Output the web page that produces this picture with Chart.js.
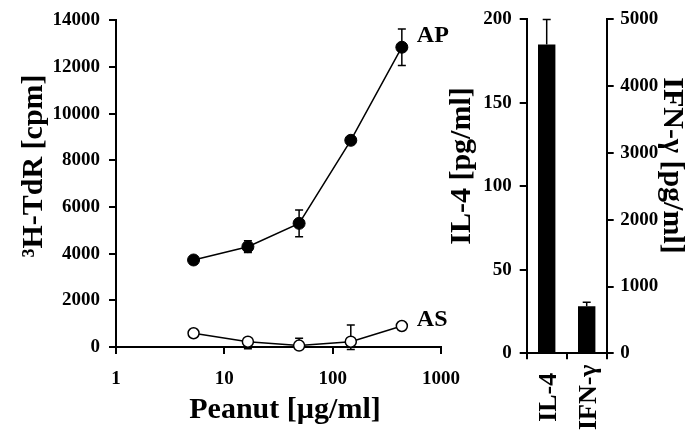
<!DOCTYPE html>
<html><head><meta charset="utf-8">
<script src="https://cdn.jsdelivr.net/npm/chart.js@4.4.0/dist/chart.umd.min.js"></script>
<style>
html,body{margin:0;padding:0;background:#fff;}
#wrap{position:relative;width:693px;height:440px;background:#fff;}
canvas{position:absolute;left:0;top:0;}
</style></head><body>
<div id="wrap"><canvas id="c1" width="693" height="440"></canvas><canvas id="c2" width="693" height="440"></canvas></div>
<script>
// ---- data ----
const peanutConc = [5.2, 16.5, 49, 147, 435];
const apMean = [3730, 4300, 5300, 8860, 12850];
const apErr = [80, 250, 570, 150, 780];
const asMean = [590, 230, 60, 230, 900];
const asErrUp = [0, 0, 320, 710, 0];
const asErrDown = [0, 310, 0, 340, 0];
const cpmTicks = [0, 2000, 4000, 6000, 8000, 10000, 12000, 14000];
const concTicks = [1, 10, 100, 1000];
const seriesNames = ['AP', 'AS'];

const cytokines = ['IL-4', 'IFN-γ'];
const il4Series = [185, null];
const il4Err = [15, null];
const ifnSeries = [null, 705];
const ifnErr = [null, 60];
const il4Ticks = [0, 50, 100, 150, 200];
const ifnTicks = [0, 1000, 2000, 3000, 4000, 5000];

// ---- style ----
const FONT = '"Liberation Serif", "Times New Roman", serif';
Chart.defaults.font.family = FONT;
Chart.defaults.color = '#000';
const tickFont = {family: FONT, size: 19, weight: 'bold'};
const axisGrid = (len) => ({drawOnChartArea: false, drawTicks: true, tickLength: len, color: '#000', lineWidth: 2});
const axisBorder = {display: true, color: '#000', width: 2};

function drawRotated(ctx, text, x, y, angle) {
  ctx.save();
  ctx.translate(x, y);
  ctx.rotate(angle);
  ctx.textAlign = 'center';
  ctx.textBaseline = 'alphabetic';
  ctx.fillText(text, 0, 0);
  ctx.restore();
}

// ---- left chart ----
const errLeft = {
  id: 'errLeft',
  beforeDatasetsDraw(chart) {
    const ctx = chart.ctx, ys = chart.scales.y;
    const sets = [[apMean, apErr, apErr], [asMean, asErrUp, asErrDown]];
    ctx.save();
    ctx.strokeStyle = '#000';
    ctx.lineWidth = 1.5;
    sets.forEach((s, di) => {
      const meta = chart.getDatasetMeta(di);
      meta.data.forEach((pt, i) => {
        const up = s[1][i], dn = s[2][i];
        const x = pt.x;
        const yc = ys.getPixelForValue(s[0][i]);
        ctx.beginPath();
        if (up) {
          const yt = ys.getPixelForValue(s[0][i] + up);
          ctx.moveTo(x, yc); ctx.lineTo(x, yt);
          ctx.moveTo(x - 4, yt); ctx.lineTo(x + 4, yt);
        }
        if (dn) {
          const yb = ys.getPixelForValue(s[0][i] - dn);
          ctx.moveTo(x, yc); ctx.lineTo(x, yb);
          ctx.moveTo(x - 4, yb); ctx.lineTo(x + 4, yb);
        }
        ctx.stroke();
      });
    });
    ctx.restore();
  },
  afterDraw(chart) {
    const ctx = chart.ctx;
    ctx.save();
    ctx.fillStyle = '#000';
    ctx.font = 'bold 30px ' + FONT;
    drawRotated(ctx, '³H-TdR [cpm]', 41.5, 166, -Math.PI / 2);
    ctx.textAlign = 'center';
    ctx.textBaseline = 'alphabetic';
    ctx.fillText('Peanut [µg/ml]', 285, 418);
    ctx.font = 'bold 24px ' + FONT;
    ctx.textAlign = 'left';
    ctx.textBaseline = 'middle';
    const dy = [-11, -6];
    seriesNames.forEach((n, di) => {
      const meta = chart.getDatasetMeta(di);
      const last = meta.data[meta.data.length - 1];
      ctx.fillText(n, last.x + 15, last.y + dy[di]);
    });
    ctx.restore();
  }
};

new Chart(document.getElementById('c1'), {
  type: 'line',
  data: {
    datasets: [
      {
        label: seriesNames[0],
        data: peanutConc.map((x, i) => ({x: x, y: apMean[i]})),
        borderColor: '#000', borderWidth: 1.5, tension: 0,
        pointRadius: 6, pointBackgroundColor: '#000', pointBorderColor: '#000', pointBorderWidth: 1,
        clip: false
      },
      {
        label: seriesNames[1],
        data: peanutConc.map((x, i) => ({x: x, y: asMean[i]})),
        borderColor: '#000', borderWidth: 1.5, tension: 0,
        pointRadius: 5.5, pointBackgroundColor: '#fff', pointBorderColor: '#000', pointBorderWidth: 1.5,
        clip: false
      }
    ]
  },
  options: {
    responsive: false, animation: false,
    layout: {padding: {left: 0, right: 252, top: 20, bottom: 0}},
    plugins: {legend: {display: false}, tooltip: {enabled: false}},
    scales: {
      x: {
        type: 'logarithmic', min: 1, max: 1000,
        afterBuildTicks: (s) => { s.ticks = concTicks.map(v => ({value: v, major: true})); },
        afterFit: (s) => { s.height = 93; },
        ticks: {font: tickFont, padding: 14, autoSkip: false, maxRotation: 0, callback: (v) => String(v)},
        grid: axisGrid(7), border: axisBorder
      },
      y: {
        type: 'linear', min: 0, max: 14000,
        afterBuildTicks: (s) => { s.ticks = cpmTicks.map(v => ({value: v})); },
        afterFit: (s) => { s.width = 116; },
        ticks: {font: tickFont, padding: 9, callback: (v) => String(v)},
        grid: axisGrid(7), border: axisBorder
      }
    }
  },
  plugins: [errLeft]
});

// ---- right chart ----
const errRight = {
  id: 'errRight',
  beforeDatasetsDraw(chart) {
    const ctx = chart.ctx;
    const sets = [[il4Series, il4Err, 'y'], [ifnSeries, ifnErr, 'y2']];
    ctx.save();
    ctx.strokeStyle = '#000';
    ctx.lineWidth = 1.5;
    sets.forEach((s, di) => {
      const meta = chart.getDatasetMeta(di);
      const sc = chart.scales[s[2]];
      meta.data.forEach((bar, i) => {
        if (s[0][i] == null) return;
        const yc = sc.getPixelForValue(s[0][i]);
        const yt = sc.getPixelForValue(s[0][i] + s[1][i]);
        ctx.beginPath();
        ctx.moveTo(bar.x, yc); ctx.lineTo(bar.x, yt);
        ctx.moveTo(bar.x - 4, yt); ctx.lineTo(bar.x + 4, yt);
        ctx.stroke();
      });
    });
    ctx.restore();
  },
  afterDraw(chart) {
    const ctx = chart.ctx;
    ctx.save();
    ctx.fillStyle = '#000';
    ctx.font = 'bold 30px ' + FONT;
    drawRotated(ctx, 'IL-4 [pg/ml]', 470, 166, -Math.PI / 2);
    drawRotated(ctx, 'IFN-γ [pg/ml]', 663.5, 165.5, Math.PI / 2);
    ctx.font = 'bold 26px ' + FONT;
    const xs = chart.scales.x;
    cytokines.forEach((c, i) => {
      drawRotated(ctx, c, xs.getPixelForValue(i) + 9.3, chart.chartArea.bottom + 44, -Math.PI / 2);
    });
    ctx.restore();
  }
};

new Chart(document.getElementById('c2'), {
  type: 'bar',
  data: {
    labels: cytokines,
    datasets: [
      {label: 'IL-4', data: il4Series, yAxisID: 'y', backgroundColor: '#000', borderWidth: 0, grouped: false,
       barPercentage: 0.435, categoryPercentage: 1},
      {label: 'IFN-γ', data: ifnSeries, yAxisID: 'y2', backgroundColor: '#000', borderWidth: 0, grouped: false,
       barPercentage: 0.435, categoryPercentage: 1}
    ]
  },
  options: {
    responsive: false, animation: false,
    layout: {padding: {left: 440, right: 0, top: 15.7, bottom: 0}},
    plugins: {legend: {display: false}, tooltip: {enabled: false}},
    scales: {
      x: {
        type: 'category', offset: true,
        afterFit: (s) => { s.height = 86.7; },
        ticks: {display: false},
        grid: Object.assign(axisGrid(6), {offset: true}), border: axisBorder
      },
      y: {
        position: 'left', min: 0, max: 200,
        afterBuildTicks: (s) => { s.ticks = il4Ticks.map(v => ({value: v})); },
        afterFit: (s) => { s.width = 86.7; },
        ticks: {font: tickFont, padding: 8, callback: (v) => String(v)},
        grid: axisGrid(7), border: axisBorder
      },
      y2: {
        position: 'right', min: 0, max: 5000,
        afterBuildTicks: (s) => { s.ticks = ifnTicks.map(v => ({value: v})); },
        afterFit: (s) => { s.width = 86.3; },
        ticks: {font: tickFont, padding: 6.5, callback: (v) => String(v)},
        grid: axisGrid(7), border: axisBorder
      }
    }
  },
  plugins: [errRight]
});
</script>
</body></html>
